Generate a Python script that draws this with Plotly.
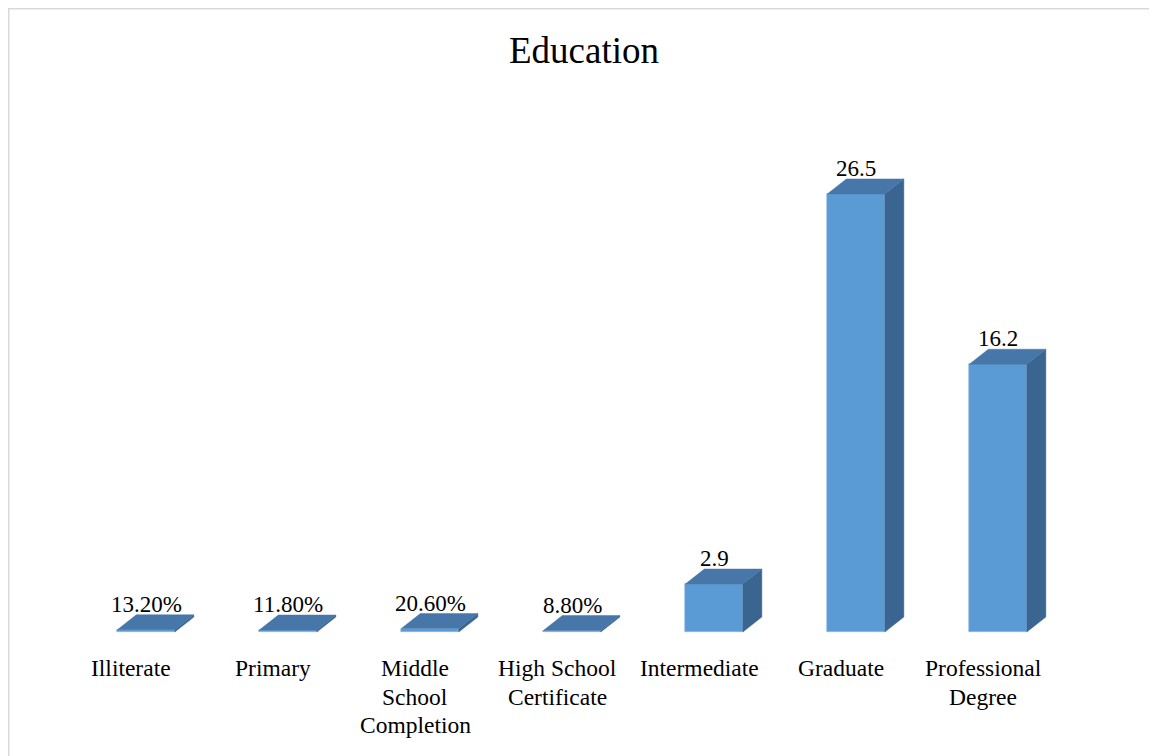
import plotly.graph_objects as go

categories = ["Illiterate", "Primary", "Middle<br>School<br>Completion",
              "High School<br>Certificate", "Intermediate", "Graduate",
              "Professional<br>Degree"]
values = [0.132, 0.118, 0.206, 0.088, 2.9, 26.5, 16.2]
value_labels = ["13.20%", "11.80%", "20.60%", "8.80%", "2.9", "26.5", "16.2"]
title_text = "Education"

FONT = "Liberation Serif, Times New Roman, serif"
FRONT = "#5B9BD5"
TOP = "#4677A8"
SIDE = "#3A6590"

W, H = 1157, 756
OFF = 8            # page body margin offset
shift = 0.106      # front face offset from category centre
bw = 0.405         # front face width
dx = 0.134         # depth offset in x (category units)
dy = 0.907         # depth offset in y (value units)

px_x = 142.0
px_y = 16.53
x_lab0 = 131.0 - OFF
base_px = 632.0 - OFF
line_gap = 28.5 / px_y

xs = list(range(len(categories)))
fx = [x + shift for x in xs]

fig = go.Figure()

# front faces
fig.add_trace(go.Bar(x=fx, y=values, width=bw,
                     marker=dict(color=FRONT, line=dict(width=0.6, color="#8DBBE6")),
                     hoverinfo="skip", showlegend=False))

# side and top faces
tx, ty = [], []
sx, sy = [], []
for c, v in zip(fx, values):
    x0, x1 = c - bw / 2, c + bw / 2
    tx += [x0, x1, x1 + dx, x0 + dx, x0, None]
    ty += [v, v, v + dy, v + dy, v, None]
    sx += [x1, x1, x1 + dx, x1 + dx, x1, None]
    sy += [0, v, v + dy, dy, 0, None]

fig.add_trace(go.Scatter(x=sx, y=sy, mode="lines", fill="toself", fillcolor=SIDE,
                         line=dict(width=0.5, color=SIDE), hoverinfo="skip", showlegend=False))
fig.add_trace(go.Scatter(x=tx, y=ty, mode="lines", fill="toself", fillcolor=TOP,
                         line=dict(width=0.5, color=TOP), hoverinfo="skip", showlegend=False))

annotations = []
for c, v, lab in zip(fx, values, value_labels):
    annotations.append(dict(x=c, y=v + dy, xref="x", yref="y", text=lab, showarrow=False,
                            yanchor="bottom", xanchor="center", yshift=-4,
                            font=dict(family=FONT, size=23, color="#000000")))
for x, cat in zip(xs, categories):
    for k, line in enumerate(cat.split("<br>")):
        annotations.append(dict(x=x, y=-1.3 - k * line_gap, xref="x", yref="y", text=line,
                                showarrow=False, yanchor="top", xanchor="center",
                                font=dict(family=FONT, size=23.5, color="#000000")))
annotations.append(dict(x=(583.5 - OFF) / W, y=1 - (50 - OFF) / H, xref="paper", yref="paper",
                        text=title_text, showarrow=False, xanchor="center", yanchor="middle",
                        font=dict(family=FONT, size=37, color="#000000")))

fig.update_layout(
    width=W, height=H,
    margin=dict(l=0, r=0, t=0, b=0),
    paper_bgcolor="white", plot_bgcolor="white",
    xaxis=dict(range=[-x_lab0 / px_x, (W - x_lab0) / px_x], visible=False, fixedrange=True),
    yaxis=dict(range=[-(H - base_px) / px_y, base_px / px_y], visible=False, fixedrange=True),
    annotations=annotations,
    shapes=[dict(type="rect", xref="paper", yref="paper", x0=0.5 / W, x1=1.02,
                 y0=-0.02, y1=1 - 0.5 / H, line=dict(color="#D9D9D9", width=2), layer="above")],
    bargap=0,
)

fig.write_html("out.html")
